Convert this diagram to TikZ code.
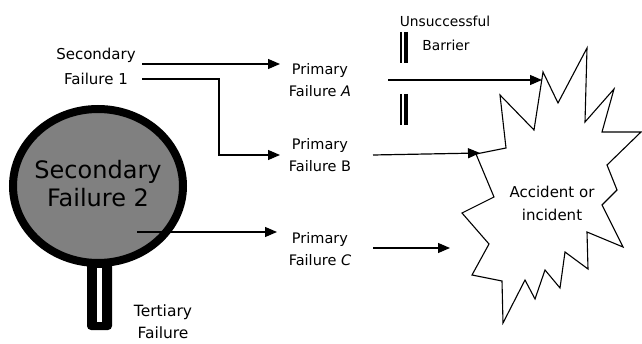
\documentclass[tikz,border=0pt]{standalone}
\usepackage{fontspec}
\setmainfont{DejaVu Sans}
\usetikzlibrary{arrows.meta}
\newcommand{\fsz}[2]{\fontsize{#1}{#2}\selectfont}
\tikzset{
  lbl/.style={align=center, inner sep=0pt, text=black},
  conn/.style={line width=1.2pt, -{Triangle[length=12pt,width=10pt]}},
}
\begin{document}
\begin{tikzpicture}[x=1pt,y=-1pt]
\useasboundingbox (0,0) rectangle (642,344);
% handle
\fill[black, rounded corners=4pt] (87,250) rectangle (112,330);
\fill[white] (97,268) rectangle (102,322);
% magnifier head
\draw[line width=8pt, fill=black!50] (98,186) ellipse [x radius=85, y radius=77];
\node[lbl, font={\fsz{24}{28}}] (sf2) at (98,184) {Secondary\\Failure 2};
% texts
\node[lbl, font={\fsz{15}{25}}] (sf1) at (96,66) {Secondary\\Failure 1};
\node[lbl, font={\fsz{14.5}{22}}] (pA) at (320,80) {Primary\\Failure \textit{A}};
\node[lbl, font={\fsz{14.5}{22}}] (pB) at (320,155) {Primary\\Failure B};
\node[lbl, font={\fsz{14.5}{22}}] (pC) at (320,249) {Primary\\Failure \textit{C}};
\node[lbl, font={\fsz{13.8}{24}}] (unsucc) at (445,21) {Unsuccessful};
\node[lbl, font={\fsz{13.8}{24}}] (barr) at (446,45) {Barrier};
\node[lbl, font={\fsz{15.5}{22}}] (tert) at (163,322) {Tertiary\\Failure};
% barrier
\draw[line width=1.2pt] (401,32) -- (401,63) (401,94) -- (401,125);
\draw[line width=4pt] (405.5,32) -- (405.5,63) (405.5,94) -- (405.5,125);
% star
\draw[line width=1.1pt, line join=miter]
 (543,72) -- (558,103) -- (587,48) -- (585,122) -- (614,89) -- (602,132)
 -- (641,132) -- (607,165) -- (617,190) -- (602,205) -- (623,247) -- (587,232)
 -- (588,269) -- (565,252) -- (560,288) -- (545,270) -- (535,299) -- (525,280)
 -- (503,323) -- (502,281) -- (472,275) -- (489,244) -- (462,213) -- (494,197)
 -- (476,154) -- (506,148) -- (500,95) -- (534,130) -- cycle;
\node[lbl, font={\fsz{15}{23}}] (acc) at (552,203) {Accident or\\incident};
% connector endpoints
\coordinate (s1a) at (142,64);
\coordinate (s1b) at (142,79);
\coordinate (eA) at (280,64);
\coordinate (eB) at (280,155);
\coordinate (s2) at (137,232);
\coordinate (eC) at (277,232);
\coordinate (oA) at (388,80);
\coordinate (tA) at (542,80);
\coordinate (oB) at (373,155);
\coordinate (tB) at (480,153);
\coordinate (oC) at (373,248);
\coordinate (tC) at (450,248);
% connectors
\draw[conn] (s1a) -- (eA);
\draw[conn] (s1b) -- (219,79) -- (219,155) -- (eB);
\draw[conn] (s2) -- (eC);
\draw[conn] (oA) -- (tA);
\draw[conn] (oB) -- (tB);
\draw[conn] (oC) -- (tC);
\end{tikzpicture}
\end{document}
